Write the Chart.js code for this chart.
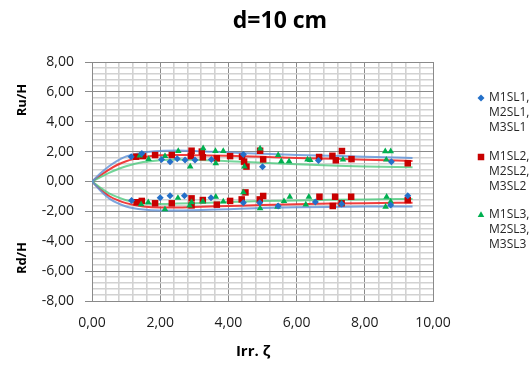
<!DOCTYPE html>
<html>
<head>
<meta charset="utf-8">
<script src="https://cdn.jsdelivr.net/npm/chart.js@4/dist/chart.umd.min.js"></script>
<style>
  html, body { margin: 0; padding: 0; background: #fff; }
</style>
</head>
<body>
<canvas id="chart" width="531" height="365"></canvas>
<script>
const chartTitle = 'd=10 cm';
const xTitle = 'Irr. ζ';
const upTitle = 'Ru/H';
const downTitle = 'Rd/H';
const legendLabels = [['M1SL1,', 'M2SL1,', 'M3SL1'], ['M1SL2,', 'M2SL2,', 'M3SL2'], ['M1SL3,', 'M2SL3,', 'M3SL3']];

// axis ticks (majors get labels, minors only grid lines)
const xMajor = [0, 2, 4, 6, 8, 10];
const yMajor = [-8, -6, -4, -2, 0, 2, 4, 6, 8];
const minorStep = 0.4;

// measured points [irr, R/H]
const sl1Up = [[1.15, 1.66], [1.46, 1.88], [2.04, 1.48], [2.29, 1.33], [2.5, 1.52], [2.73, 1.44], [3.02, 1.44],
  [3.5, 1.48], [4.44, 1.8], [5.0, 0.99], [6.64, 1.4], [8.78, 1.33]];
const sl1Down = [[1.16, -1.28], [2.0, -1.08], [2.29, -0.95], [2.71, -0.95], [3.49, -1.08], [4.44, -1.42],
  [4.92, -1.42], [5.46, -1.64], [6.55, -1.37], [7.32, -1.5], [8.76, -1.57], [9.26, -0.95]];
const sl2Up = [[1.3, 1.66], [1.5, 1.7], [1.85, 1.77], [2.34, 1.77], [2.9, 1.7], [2.92, 2.06], [3.22, 2.0],
  [3.25, 1.62], [3.66, 1.55], [4.05, 1.7], [4.4, 1.66], [4.46, 1.33], [4.53, 1.0], [4.93, 2.06], [5.02, 1.48],
  [6.66, 1.64], [7.05, 1.72], [7.15, 1.42], [7.33, 2.04], [7.61, 1.5], [9.26, 1.22]];
const sl2Down = [[1.31, -1.39], [1.46, -1.3], [1.85, -1.46], [2.34, -1.46], [2.92, -1.13], [2.92, -1.6],
  [3.25, -1.24], [3.66, -1.55], [4.05, -1.3], [4.39, -1.2], [4.5, -0.73], [4.92, -1.2], [5.02, -0.97],
  [6.67, -1.02], [7.06, -1.64], [7.13, -1.02], [7.32, -1.46], [7.6, -1.02], [9.26, -1.24]];
const sl3Up = [[1.4, 1.73], [1.66, 1.5], [2.14, 1.7], [2.53, 2.04], [2.88, 1.0], [3.26, 2.22], [3.62, 2.04],
  [3.63, 1.22], [3.85, 2.04], [4.47, 1.0], [4.93, 2.2], [5.46, 1.77], [5.55, 1.35], [5.78, 1.35], [6.32, 1.47],
  [6.4, 1.44], [7.36, 1.47], [8.6, 2.02], [8.76, 2.02], [8.63, 1.46]];
const sl3Down = [[1.44, -1.53], [1.65, -1.39], [2.14, -1.86], [2.52, -1.1], [2.86, -1.62], [2.92, -1.4],
  [3.25, -1.35], [3.63, -1.02], [3.85, -1.35], [4.44, -0.73], [4.93, -1.8], [5.44, -1.69], [5.63, -1.32],
  [5.8, -1.02], [6.27, -1.55], [6.36, -1.02], [7.32, -1.46], [8.64, -1.02], [8.61, -1.69], [8.76, -1.35]];

// trend lines
const trendX = [0, 0.25, 0.5, 0.75, 1, 1.5, 2, 2.5, 3, 4, 5, 6, 7, 8, 9.4];
const trendSl1Up = [0, 0.55, 1.02, 1.4, 1.68, 1.95, 2.05, 2.07, 2.05, 1.95, 1.85, 1.78, 1.72, 1.66, 1.58];
const trendSl2Up = [0, 0.42, 0.8, 1.12, 1.36, 1.62, 1.75, 1.78, 1.76, 1.72, 1.65, 1.58, 1.52, 1.46, 1.38];
const trendSl3Up = [0, 0.3, 0.58, 0.82, 1.02, 1.3, 1.43, 1.47, 1.45, 1.36, 1.25, 1.15, 1.07, 1.0, 0.95];
const trendSl1Down = [0, -0.62, -1.13, -1.45, -1.67, -1.88, -1.94, -1.94, -1.92, -1.85, -1.78, -1.73, -1.7, -1.68, -1.67];
const trendSl2Down = [0, -0.53, -0.97, -1.25, -1.45, -1.67, -1.74, -1.74, -1.71, -1.64, -1.57, -1.52, -1.48, -1.45, -1.42];
const trendSl3Down = [0, -0.42, -0.79, -1.05, -1.25, -1.45, -1.5, -1.48, -1.45, -1.38, -1.31, -1.27, -1.23, -1.2, -1.17];

const blue = '#2470c9';
const red = '#c80000';
const green = '#00b050';

const pts = arr => arr.map(p => ({ x: p[0], y: p[1] }));
const trend = ys => trendX.map((x, i) => ({ x: x, y: ys[i] }));
const isMajor = v => Math.abs(v / 2 - Math.round(v / 2)) < 1e-6;
const fmt = v => (Math.round(v * 100) / 100 + 0).toFixed(2).replace('.', ',').replace('-0,00', '0,00');

function stepTicks(min, max) {
  const out = [];
  const n = Math.round((max - min) / minorStep);
  for (let i = 0; i <= n; i++) out.push({ value: Math.round((min + i * minorStep) * 100) / 100 });
  return out;
}

function markerSet(data, style, color, r) {
  return { data: pts(data), pointStyle: style, pointRadius: r, pointHoverRadius: r,
    backgroundColor: color, borderColor: color, borderWidth: 0, showLine: false, order: 0 };
}
function trendSet(data, color) {
  return { data: trend(data), showLine: true, pointRadius: 0, borderColor: color, borderWidth: 2,
    cubicInterpolationMode: 'monotone', fill: false, order: 1 };
}

const textPlugin = {
  id: 'texts',
  afterDraw(chart) {
    const ctx = chart.ctx;
    ctx.save();
    ctx.fillStyle = '#000';
    ctx.textAlign = 'center';
    ctx.textBaseline = 'middle';
    ctx.font = 'bold 23px "Open Sans"';
    ctx.fillText(chartTitle, 280, 21);
    ctx.font = 'bold 15px "Open Sans"';
    ctx.fillText(xTitle, 253, 352);
    ctx.font = 'bold 13px "Open Sans"';
    [[upTitle, 100], [downTitle, 258]].forEach(([t, y]) => {
      ctx.save();
      ctx.translate(22, y);
      ctx.rotate(-Math.PI / 2);
      ctx.fillText(t, 0, 0);
      ctx.restore();
    });

    // legend
    const styles = [['rectRot', blue, 3.5], ['rect', red, 4.6], ['triangle', green, 3.8]];
    const tops = [98, 157, 215];
    ctx.font = '12px "Open Sans"';
    ctx.textAlign = 'left';
    legendLabels.forEach((lines, i) => {
      ctx.fillStyle = styles[i][1];
      Chart.helpers.drawPoint(ctx, { pointStyle: styles[i][0], radius: styles[i][2], rotation: 0, borderWidth: 0 }, 481, tops[i]);
      ctx.fillStyle = '#262626';
      lines.forEach((t, j) => ctx.fillText(t, 489, tops[i] + j * 15));
    });
    ctx.restore();
  }
};

new Chart(document.getElementById('chart'), {
  type: 'scatter',
  data: {
    datasets: [
      trendSet(trendSl1Up, 'rgba(95,145,215,0.8)'),
      trendSet(trendSl1Down, 'rgba(95,145,215,0.8)'),
      trendSet(trendSl3Up, 'rgba(70,200,120,0.75)'),
      trendSet(trendSl3Down, 'rgba(70,200,120,0.75)'),
      trendSet(trendSl2Up, 'rgba(240,40,40,0.9)'),
      trendSet(trendSl2Down, 'rgba(240,40,40,0.9)'),
      markerSet(sl1Up, 'rectRot', blue, 3.5),
      markerSet(sl1Down, 'rectRot', blue, 3.5),
      markerSet(sl3Up, 'triangle', green, 3.8),
      markerSet(sl3Down, 'triangle', green, 3.8),
      markerSet(sl2Up, 'rect', red, 4.6),
      markerSet(sl2Down, 'rect', red, 4.6)
    ]
  },
  options: {
    responsive: false,
    animation: false,
    events: [],
    layout: { padding: { top: 62, right: 98, left: 0, bottom: 0 } },
    plugins: { legend: { display: false }, title: { display: false }, tooltip: { enabled: false } },
    scales: {
      x: {
        type: 'linear',
        min: xMajor[0],
        max: xMajor[xMajor.length - 1],
        afterBuildTicks: s => { s.ticks = stepTicks(s.min, s.max); },
        afterFit: s => { s.height = 64; },
        ticks: {
          autoSkip: false,
          maxRotation: 0,
          padding: 14,
          color: '#1a1a1a',
          font: { family: '"Open Sans"', size: 14 },
          callback: v => (xMajor.some(m => Math.abs(m - v) < 1e-6) ? fmt(v) : '')
        },
        grid: {
          drawTicks: false,
          color: c => (isMajor(c.tick.value) ? '#8a8a8a' : '#d2d2d2'),
          lineWidth: c => (isMajor(c.tick.value) ? 1 : 1.6)
        },
        border: { color: '#8a8a8a' }
      },
      y: {
        type: 'linear',
        min: yMajor[0],
        max: yMajor[yMajor.length - 1],
        afterBuildTicks: s => { s.ticks = stepTicks(s.min, s.max); },
        afterFit: s => { s.width = 92; },
        ticks: {
          autoSkip: false,
          padding: 11,
          color: '#1a1a1a',
          font: { family: '"Open Sans"', size: 14 },
          callback: v => (yMajor.some(m => Math.abs(m - v) < 1e-6) ? fmt(v) : '')
        },
        grid: {
          tickLength: 7,
          tickColor: c => (isMajor(c.tick.value) ? '#8a8a8a' : 'rgba(0,0,0,0)'),
          color: c => (isMajor(c.tick.value) ? '#8a8a8a' : '#d2d2d2'),
          lineWidth: c => (isMajor(c.tick.value) ? 1 : 1.6)
        },
        border: { color: '#8a8a8a' }
      }
    }
  },
  plugins: [textPlugin]
});
</script>
</body>
</html>
